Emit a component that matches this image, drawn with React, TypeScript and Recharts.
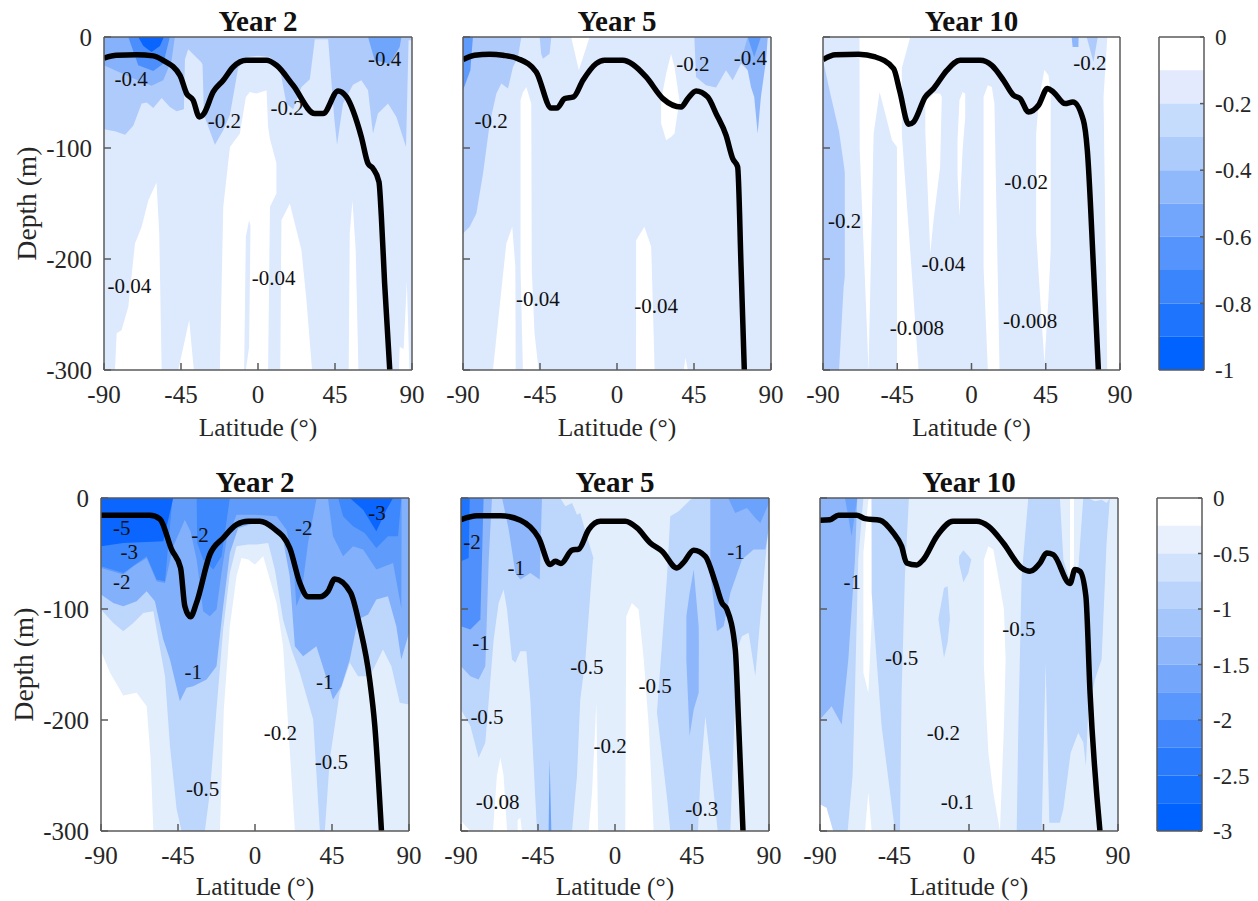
import { Area, Bar, BarChart, ComposedChart, Line, ReferenceDot, XAxis, YAxis } from 'recharts'

type Row = number[]
type Layer = [string, Row[]]
type Note = [number, number, string]

const SERIF = '"Liberation Serif", serif'
const INK = '#262626'
const FRAME = '#5a5a5a'

const latTicks = [-90, -45, 0, 45, 90]
const depthTicks = [0, -100, -200, -300]

const topBarColors = ['#FFFFFF', '#E3EAFD', '#C5DCFC', '#ADCBFB', '#8FB9FB', '#72A6FC', '#5594FC', '#3A84FC', '#1F74FE', '#0062FF']
const topBarTicks = [0, -0.2, -0.4, -0.6, -0.8, -1]
const lowBarColors = ['#FFFFFF', '#E8EFFD', '#D0E2FC', '#BBD4FC', '#A5C6FB', '#8DB6FB', '#74A7FC', '#5A97FC', '#4288FC', '#2A7AFD', '#1570FE', '#0062FF']
const lowBarTicks = [0, -0.5, -1, -1.5, -2, -2.5, -3]

const full: Row[] = [[-90, 0, -300], [90, 0, -300]]

// mixed layer depth lines: [lat, depth]
const mldTop2 = [[-90, -19], [-82.6, -16.5], [-70.9, -16], [-61.2, -17], [-55.4, -21], [-45.6, -34.5], [-41.7, -51], [-37.9, -57], [-34.3, -72], [-31.6, -69], [-26.2, -49.5], [-20.3, -39], [-14.5, -27], [-6.7, -21], [5, -21], [10.8, -25.5], [20.5, -43.5], [33.2, -69], [38, -69], [46.8, -48.6], [51.7, -54], [60.4, -90], [64.3, -114], [67.2, -118.5], [70.7, -130.5], [72.1, -162], [74, -222], [77, -300]]
const mldTop5 = [[-90, -20.4], [-83.2, -16.5], [-74.4, -15.6], [-66.6, -16.5], [-57.9, -19.5], [-47.2, -31.5], [-38.4, -64], [-35.1, -64], [-30.6, -55.5], [-25.4, -54], [-19.9, -39], [-12.2, -24], [-7.3, -21], [3.4, -21], [9.2, -24.6], [17, -36], [26.8, -55.5], [37.5, -63], [41.4, -55.5], [46.2, -48.6], [53, -54], [57.9, -69], [63.7, -88.5], [67.6, -109.5], [70.5, -117], [72.5, -207], [74.4, -300]]
const mldTop10 = [[-90, -20.4], [-82.5, -16], [-68.4, -15.6], [-58.3, -18], [-47.2, -28.5], [-43.6, -48], [-38.1, -78.6], [-35.1, -76.5], [-28, -54], [-23, -46.5], [-14.9, -30], [-6.9, -21], [5.2, -21], [12.3, -25.5], [19.4, -39], [25.4, -52.5], [29.5, -55.5], [34.5, -67.5], [40.6, -61.5], [46, -46.5], [49.6, -49.5], [56.7, -60], [61.4, -58.5], [67.8, -75], [70.2, -102], [73.9, -207], [76.9, -300]]
const mldLow2 = [[-90, -15.6], [-61.4, -15.6], [-55.6, -18.9], [-48.7, -46.5], [-43.5, -63], [-41, -97.5], [-37.7, -107], [-34.2, -94.5], [-26.4, -51], [-18.6, -36], [-10.8, -24], [-4, -21], [2.8, -21], [10.6, -27], [20.3, -45], [26.2, -76.5], [31, -89], [37.9, -89], [42.7, -84], [46.6, -73], [55.8, -85], [61.2, -115.5], [67, -163.5], [70, -205], [73.9, -300]]
const mldLow5 = [[-90, -19.5], [-80.6, -16], [-67, -16], [-55.3, -20], [-44.6, -36], [-37.8, -60], [-34.9, -57], [-31.6, -59], [-25.1, -47], [-21.2, -46], [-15.4, -28.5], [-8.6, -21], [6, -21], [12.9, -27], [20.6, -40.5], [27.5, -48], [36.2, -63], [40.1, -58], [46, -47], [52.8, -52.5], [58.7, -76.5], [62.5, -94.5], [65.4, -100.5], [70.3, -136.5], [72.3, -205], [74.8, -300]]
const mldLow10 = [[-90, -20], [-84, -19.5], [-78.9, -15.6], [-67.9, -15.6], [-62.8, -18.6], [-53.8, -20], [-45.7, -31.5], [-40.7, -43.5], [-37.7, -58.5], [-31.6, -60.3], [-27.6, -55.5], [-19.5, -34.5], [-9.5, -21], [4.6, -21], [11.7, -25.5], [20.7, -40.5], [31.8, -63], [36.8, -66], [42.9, -58.5], [46.9, -49.5], [50.9, -51], [61, -77], [64, -64.5], [67, -66], [70.6, -88.5], [73.1, -175], [79.1, -300]]

// contour regions: [lat, shallow edge, deep edge]
const top2WhiteA = [[-83.6, -300, -300], [-82.6, -267, -300], [-79.7, -264, -300], [-75.8, -243, -300], [-71.9, -186, -300], [-68, -171, -300], [-64.1, -147, -300], [-59.3, -131, -300], [-57.7, -177, -300], [-56.3, -300, -300]]
const top2WhiteB = [[-46.6, -300, -300], [-40.2, -255, -300], [-37.5, -300, -300]]
const top2WhiteC = [[-22.3, -300, -300], [-20.3, -153, -300], [-16.4, -99, -300], [-10.6, -87, -300], [-7.1, -54, -300], [-4.8, -49.5, -300], [-0.9, -51, -300], [5, -48, -300], [5.9, -81, -300], [7, -92, -153], [10.8, -114, -141]]
const top2Slit = [[-8.1, -300, -300], [-7.1, -180, -300], [-5.2, -165, -279], [-4.4, -170, -170]]
const top2WhiteD = [[13, -300, -300], [13.7, -165, -300], [18.6, -150, -300], [25.4, -192, -300], [28.3, -237, -300], [31.6, -300, -300]]
const top2WhiteE = [[53, -300, -300], [53.6, -177, -300], [55.2, -147, -300], [57.1, -192, -300], [58.7, -300, -300]]
const top2WhiteF = [[82.4, -300, -300], [82.8, -279, -300], [85.1, -281, -300], [87, -220, -300], [88.5, -300, -300]]
const top2Band = [[-90, 0, -83], [-83.6, 0, -85], [-77.7, 0, -88], [-72.9, 0, -80], [-68, 0, -60], [-65, 0, -59], [-61.2, 0, -64], [-56.3, 0, -55], [-51.5, 0, -63], [-47.6, 0, -67], [-43.3, 0, -65], [-42.7, 0, -20], [-40.8, 0, -11], [-33, 0, -23], [-32.4, 0, -25], [-31.6, 0, -70], [-25.2, 0, -97], [-20.3, 0, -84], [-16.4, 0, -70], [-11.6, 0, -28], [-6.7, 0, -18], [0, 0, -17], [6.9, 0, -18], [12.7, 0, -28], [16.6, 0, -60], [20.5, 0, -65], [25.4, 0, -45], [30.3, 0, -38], [33.2, 0, -2], [41, 0, -2], [44.5, 0, -72], [46.2, 0, -97], [49.7, 0, -60], [55.5, 0, -43], [60.4, 0, -39], [64.3, 0, -48], [67.2, 0, -87], [70.1, 0, -69], [76, 0, -60], [80.9, 0, -72], [86.5, 0, -99], [88, 0, -3], [90, 0, -3]]
const top2LeftA = [[-90, 0, -25.5], [-83.6, 0, -30], [-73.8, 0, -36.6], [-62.2, 0, -44], [-55.4, 0, -39], [-50.5, 0, -21], [-48.6, 0, 0]]
const top2LeftB = [[-75.8, 0, 0], [-70, 0, -25.5], [-61.2, 0, -30.6], [-55.4, 0, -24], [-51.5, 0, 0]]
const top2LeftC = [[-70, 0, 0], [-67, 0, -8], [-62.2, 0, -13.5], [-57.3, 0, -8], [-55, 0, 0]]
const top2Right = [[64.3, 0, 0], [68.2, 0, -21], [77, 0, -24], [82.8, 0, -9], [83.8, 0, 0]]

const top5WhiteA = [[-72.5, -300, -300], [-64.7, -186, -300], [-61.2, -171, -300], [-59.4, -207, -300], [-59.2, -300, -300]]
const top5WhiteB = [[-56.4, -57, -207], [-55, -50, -300], [-53, -45, -300], [-50.1, -60, -300], [-49.8, -210, -300], [-48.2, -267, -300], [-45.8, -300, -300]]
const top5WhiteC = [[11.1, -300, -300], [11.2, -183, -300], [16, -171, -300], [20, -189, -300], [22, -300, -300]]
const top5WhiteD = [[25.8, -57, -78], [28.7, -33, -93], [31.6, -15, -90], [33.6, -27, -87], [36.5, -57, -57]]
const top5WhiteE = [[-26.8, 0, 0], [-22.3, 0, -30], [-16, 0, 0]]
const top5WhiteF = [[39, -300, -300], [40, -289, -300], [41.4, -300, -300]]
const top5Left = [[-90, 0, -177], [-86.1, 0, -171], [-82.2, 0, -159], [-78.3, 0, -123], [-74.4, 0, -78], [-70.5, 0, -51], [-67.6, 0, -42], [-63.7, 0, -46.5], [-60.8, 0, -27], [-57.9, 0, -18], [-55.9, 0, 0]]
const top5Patch = [[-45.2, 0, 0], [-44.3, 0, -15], [-43.3, 0, -19.5], [-39.4, 0, -15], [-38.4, 0, 0]]
const top5Right = [[45.2, 0, 0], [46.2, 0, -36], [52, 0, -43.5], [57.9, 0, -45.6], [63.7, 0, -30], [67.6, 0, -39], [72.5, 0, -24], [76.4, 0, -30], [78.3, 0, -30], [88.1, 0, 0]]
const top5Tail = [[72.5, -21, -21], [76.4, 0, -30], [78.3, 0, -45], [80.2, 0, -54], [82.2, 0, -87], [84.1, 0, -54], [87.1, 0, -21], [88.1, 0, 0]]
const top5DarkR = [[76.4, 0, 0], [80.2, 0, -18], [84.1, 0, 0]]
const top5DarkL = [[-90, 0, -48], [-85.7, 0, -30], [-84.2, 0, 0]]

const top10White = [[-67.9, 0, 0], [-67.8, 0, -100], [-62.4, 0, -300], [-37.1, 0, -300], [-32.1, -300, -300]]
const top10Cut = [[-42.2, -28, -88], [-37.1, 0, -193], [-32.1, 0, -300]]
const top10Tongue = [[-62.4, -300, -300], [-59.3, -87, -300], [-55.7, -49.5, -300], [-52.3, -69, -300], [-48.2, -93, -300], [-45.2, -99, -300], [-45.1, -300, -300]]
const top10WhiteB = [[-28, -57, -85.5], [-25, -54, -195], [-23, -51, -165], [-19, -51, -117], [-18, -54, -54]]
const top10WhiteC = [[-8.5, -93, -123], [-7.3, -57, -162], [-5.4, -49.5, -102], [-3.8, -51, -72]]
const top10WhiteD = [[7.3, -54, -207], [9.9, -43.5, -300], [12.3, -45, -300], [13.9, -60, -300], [17, -300, -300]]
const top10WhiteE = [[39.2, -87, -177], [40.8, -57, -216], [44.2, -29.4, -294], [46.6, -34.5, -237], [48, -48, -192]]
const top10WhiteF = [[80, -54, -54], [82.3, 0, -300], [90, 0, -300]]
const top10Left = [[-90, -21, -300], [-85.6, -51, -300], [-80.3, -85, -300], [-77.5, -114, -225], [-76.8, -122, -216]]
const top10TipA = [[60.7, 0, 0], [61.3, 0, -9], [64.8, 0, -9], [64.9, 0, 0]]
const top10TipB = [[69.8, 0, 0], [73.9, 0, -22.5], [76.5, 0, 0]]

const low2Pale = [[-90, 0, -138], [-84.7, 0, -157.5], [-77, 0, -178], [-69.2, 0, -175.5], [-63.3, 0, -187.5], [-61, 0, -235], [-59.4, 0, -300], [-20.5, 0, -300], [-18.2, 0, -190], [-14.7, 0, -115.5], [-10.8, 0, -70.5], [-7.9, 0, -54], [-4, 0, -55.5], [-0.1, 0, -60], [4.8, 0, -52.5], [8.7, 0, -73.5], [12.6, 0, -94.5], [16.4, 0, -133.5], [19.4, 0, -205.5], [23.3, 0, -300], [90, 0, -300]]
const low2Light = [[-90, 0, -100.5], [-82.8, 0, -112.5], [-77, 0, -120], [-71.1, 0, -112.5], [-65.3, 0, -103.5], [-59.4, 0, -102], [-56.5, 0, -127.5], [-52.6, 0, -160.5], [-49.7, 0, -223.5], [-45.8, 0, -280.5], [-42.9, 0, -300], [-29.3, 0, -300], [-26.4, 0, -265.5], [-22.5, 0, -190.5], [-18.6, 0, -118.5], [-14.7, 0, -67.5], [-10.8, 0, -43.5], [-4, 0, -42], [0.9, 0, -42], [7.7, 0, -40.5], [11.6, 0, -64.5], [16.4, 0, -109.5], [21.3, 0, -136.5], [26.2, 0, -157.5], [34, 0, -199.5], [37.9, 0, -300], [40.8, 0, -300], [43.7, 0, -235.5], [49.5, 0, -175.5], [55.4, 0, -148.5], [60.2, 0, -160.5], [67, 0, -160.5], [70, 0, -151.5], [74.8, 0, -136.5], [79.7, 0, -151.5], [84.6, 0, -184.5], [90, 0, -186]]
const low2Mid = [[-90, 0, -87], [-82.8, 0, -94.5], [-77, 0, -97.5], [-69.2, 0, -93], [-63.3, 0, -84], [-58.5, 0, -93], [-53.6, 0, -127.5], [-49.7, 0, -145.5], [-43.9, 0, -183], [-40, 0, -171], [-36.1, 0, -169.5], [-28.3, 0, -163.5], [-22.5, 0, -151.5], [-18.6, 0, -97.5], [-14.7, 0, -49.5], [-9.8, 0, -27], [-0.1, 0, -22.5], [8.7, 0, -22.5], [16.4, 0, -37.5], [20.3, 0, -70.5], [23.3, 0, -133.5], [28.1, 0, -142.5], [35.9, 0, -133.5], [40.8, 0, -157.5], [45.6, 0, -181.5], [50.5, 0, -169.5], [55.4, 0, -145.5], [60.2, 0, -109.5], [66.1, 0, -105], [70.9, 0, -91.5], [77.7, 0, -88.5], [82.6, 0, -115.5], [85.5, 0, -145.5], [90, 0, -121.5]]
const low2Deep = [[-90, 0, -63], [-77, 0, -69], [-71.1, 0, -61.5], [-63.3, 0, -54], [-57.5, 0, -75], [-52.6, 0, -76.5], [-47.8, 0, -43.5], [-43.9, 0, -30], [-41, 0, -19.5], [-37.7, 0, -30], [-34.1, 0, -55.5], [-30.3, 0, -102], [-26.4, 0, -106.5], [-22.5, 0, -100.5], [-19.6, 0, -67.5], [-16.6, 0, -37.5], [-10.8, 0, -15], [-0.1, 0, -15], [12.6, 0, -16.5], [18.4, 0, -28.5], [22.3, 0, -55.5], [24.2, 0, -97.5], [27.2, 0, -85.5], [31, 0, -40.5], [35.9, 0, -1], [42.7, 0, -1], [45.6, 0, -34.5], [51.5, 0, -52.5], [57.3, 0, -43.5], [63.2, 0, -46.5], [70.9, 0, -64.5], [80.7, 0, -58.5], [85.5, 0, -99], [85.7, 0, 0], [90, 0, 0]]
const low2StrongL = [[-90, 0, -61.5], [-77, 0, -67.5], [-71.1, 0, -61], [-63.3, 0, -52.5], [-57.5, 0, -73.5], [-52.6, 0, -75], [-48.2, 0, 0]]
const low2StrongM = [[-34.1, 0, 0], [-33.8, 0, -40.5], [-30.3, 0, -55.5], [-24.4, 0, -64.5], [-19.6, 0, -52.5], [-14.7, 0, 0]]
const low2StrongR = [[48.6, 0, 0], [51.5, 0, -16.5], [57.3, 0, -25.5], [64.1, 0, -31.5], [70.9, 0, -45], [77.7, 0, -34.5], [83.6, 0, -34.5], [85.5, 0, 0]]
const low2CoreL = [[-90, 0, -43.5], [-77, 0, -40.5], [-53.6, 0, -39], [-47.8, 0, 0]]
const low2CoreR = [[55.4, 0, 0], [63.2, 0, -10.5], [70.9, 0, -30], [76.8, 0, -10.5], [80.7, 0, 0]]

const low5WhiteA = [[-90, -291, -300], [-84.5, -300, -300]]
const low5WhiteB = [[-71.3, -300, -300], [-69, -250, -300], [-67, -234, -300], [-65.1, -250, -300], [-63.1, -300, -300]]
const low5WhiteC = [[-56.9, -290, -300], [-55.3, -288, -300], [-54.4, -300, -300]]
const low5WhiteD = [[-15.4, -300, -300], [-13.4, -265, -300], [-10.9, -184.5, -300], [-9.9, -300, -300]]
const low5WhiteE = [[6, -300, -300], [6.6, -106.5, -300], [9.9, -94.5, -300], [13.8, -100.5, -300], [16.8, -145.5, -300], [19.7, -205.5, -300], [22.6, -300, -300]]
const low5BandL = [[-90, 0, -190.5], [-84.5, 0, -205.5], [-79.7, 0, -234], [-75.8, 0, -220.5], [-70.9, 0, -127.5], [-68, 0, -94.5], [-65.1, 0, -82.5], [-63.1, 0, -100.5], [-60.2, 0, -145.5], [-58.2, 0, -148.5], [-55.3, 0, -138], [-51.8, 0, -138], [-49.5, 0, -181.5], [-45.6, 0, -300], [-32, 0, -300], [-29, -7.5, -300], [-25.1, -4.5, -300], [-22.2, -15, -250], [-20.3, -13.5, -181.5], [-17.3, -30, -145.5], [-12.9, -52.5, -55.5], [-12.5, -55, -55]]
const low5BandR = [[24.5, -193, -193], [30.4, -70.5, -270], [32.3, -16.5, -300], [37.2, -12, -300], [44, -1.5, -300], [46, 0, -300], [67.4, 0, -300], [71.3, 0, -136.5], [74.2, 0, -124.5], [78.1, 0, -121.5], [82, 0, -160.5], [87.9, 0, -55.5], [90, 0, -22.5]]
const low5Gap = [[48.5, -300, -300], [50, -250, -300], [52.8, -196.5, -300], [56, -240, -300], [60, -300, -300]]
const low5MidA = [[-90, 0, -151.5], [-84.5, 0, -160.5], [-79.7, 0, -163.5], [-75.8, 0, -151.5], [-73.8, 0, -55.5], [-71.9, 0, 0]]
const low5MidB = [[-66, 0, 0], [-62.1, 0, -28.5], [-58.2, 0, -67.5], [-55.3, 0, -73.5], [-49.5, 0, -67.5], [-44, 0, -73.5], [-42.7, 0, 0]]
const low5MidC = [[41.7, -106.5, -145.5], [43.6, -85.5, -214.5], [46, -64.5, -190.5], [48.9, -115.5, -175.5], [49, -130, -130]]
const low5MidD = [[55.7, 0, -67.5], [59.6, 0, -120], [63.5, 0, -115.5], [67.4, 0, -85.5], [74.2, 0, -55.5], [81, 0, -46.5], [87.9, 0, -46.5], [90, 0, -25.5]]
const low5DeepL = [[-90, 0, -115.5], [-84.5, 0, -118.5], [-78.7, 0, -109.5], [-76.8, 0, 0]]
const low5DeepR = [[66.4, 0, -1], [70.3, 0, -13.5], [77.1, 0, -9], [82, 0, -18], [84.9, 0, -22.5], [90, 0, -4.5]]
const low5Core = [[-90, 0, -57], [-85.5, 0, -54], [-84.9, 0, 0]]
const low5Slit = [[-38.8, -300, -300], [-38.2, -235, -300], [-37.2, -300, -300]]

const low10WhiteA = [[-63.8, -49.5, -157.5], [-60.8, -1.5, -175.5], [-58.2, 0, -91.5], [-57.5, -30, -30]]
const low10WhiteB = [[-62.8, -300, -300], [-60.8, -265, -300], [-58.8, -300, -300]]
const low10WhiteC = [[9, -55.5, -151.5], [11.7, -43.5, -229.5], [14.7, -46.5, -265.5], [18.7, -79.5, -300], [21.1, -100.5, -205.5], [22.1, -145.5, -145.5]]
const low10WhiteD = [[-90, -276, -300], [-86, -279, -300], [-82, -300, -300]]
const low10WhiteE = [[61, 0, -76.5], [63.4, 0, -58.5]]
const low10BandA = [[-90, 0, -276], [-86, 0, -279], [-82, 0, -300], [-73.3, 0, -300], [-70.3, 0, -250], [-68.9, 0, -175], [-66.9, 0, -55.5], [-63.8, 0, 0]]
const low10BandB = [[-58.9, 0, 0], [-58.8, 0, -85.5], [-52.8, 0, -205.5], [-44.7, 0, -300], [-41.7, 0, -300], [-40.7, 0, -175.5], [-38.7, 0, -70.5], [-36.3, 0, 0]]
const low10PatchA = [[-6, -52.5, -58.5], [-3.4, -47, -76], [-0.4, -52, -67.5], [1.4, -55.5, -55.5]]
const low10PatchB = [[-18.5, -109, -109], [-15.1, -81, -144], [-12.9, -79.5, -130], [-11.5, -109, -109]]
const low10BandC = [[28.8, -300, -300], [29.8, -205, -300], [31.8, -70.5, -300], [35.8, 0, -300], [43.9, 0, -300], [46.3, 0, -148.5], [48.5, 0, -292.5], [54.9, 0, -292.5], [57, -55.5, -280], [61.4, -76.5, -229.5], [66, -64.5, -211.5], [69, 0, -220], [70.6, 0, -241.5], [72, 0, -193.5], [76.1, -3, -163.5], [80.1, -1.5, -145.5], [83.1, -4.5, -40.5], [85.1, 0, 0]]
const low10Mid = [[-90, 0, -199.5], [-83, 0, -187.5], [-76.9, 0, -204], [-72.9, 0, -145.5], [-68.9, 0, -55.5], [-67.5, 0, 0]]
const low10Core = [[-74.9, 0, 0], [-70.9, 0, -34.5], [-67.5, 0, 0]]

// contour labels: [lat, depth, text]
const notesTop2: Note[] = [[-74.2, -37.5, '-0.4'], [-19.7, -75.6, '-0.2'], [17, -63.6, '-0.2'], [74, -19.5, '-0.4'], [-75.2, -223.5, '-0.04'], [9.2, -216.6, '-0.04']]
const notesTop5: Note[] = [[-73.5, -75, '-0.2'], [44.3, -24, '-0.2'], [78, -18.6, '-0.4'], [-46.2, -236, '-0.04'], [22.9, -241.5, '-0.04']]
const notesTop10: Note[] = [[71.8, -23.4, '-0.2'], [33.1, -130, '-0.02'], [-76.9, -165, '-0.2'], [-17, -204, '-0.04'], [-33.1, -262, '-0.008'], [35.5, -255.6, '-0.008']]
const notesLow2: Note[] = [[-77.9, -27, '-5'], [-73.5, -48.6, '-3'], [-77.9, -75, '-2'], [-32.2, -33, '-2'], [28.5, -27, '-2'], [71.3, -13.5, '-3'], [-36.1, -156, '-1'], [40.8, -165, '-1'], [14.9, -211.5, '-0.2'], [44.7, -237, '-0.5'], [-30.6, -261.6, '-0.5']]
const notesLow5: Note[] = [[-83.6, -39, '-2'], [-57.7, -63, '-1'], [70.7, -48, '-1'], [-78.3, -130.5, '-1'], [-16.4, -152, '-0.5'], [23.5, -168.6, '-0.5'], [-74.8, -197, '-0.5'], [-2.8, -223, '-0.2'], [-68.6, -273.6, '-0.08'], [50.7, -280, '-0.3']]
const notesLow10: Note[] = [[-70.5, -75, '-1'], [30.2, -117.6, '-0.5'], [-40.7, -144, '-0.5'], [-15.5, -211.5, '-0.2'], [-7, -273.6, '-0.1']]

const PALE = '#DDE9FD'
const PALE2 = '#E3EEFD'

const layersTop2: Layer[] = [[PALE, full], ['#fff', top2WhiteA], ['#fff', top2WhiteB], ['#fff', top2WhiteC], [PALE, top2Slit], ['#fff', top2WhiteD], ['#fff', top2WhiteE], ['#fff', top2WhiteF], ['#AECBFB', top2Band], ['#86B2FB', top2LeftA], ['#4C8FFC', top2LeftB], ['#0A65FF', top2LeftC], ['#6FA5FB', top2Right]]
const layersTop5: Layer[] = [[PALE, full], ['#fff', top5WhiteA], ['#fff', top5WhiteB], ['#fff', top5WhiteC], ['#fff', top5WhiteD], ['#fff', top5WhiteE], ['#fff', top5WhiteF], ['#AECBFB', top5Left], ['#AECBFB', top5Patch], ['#AECBFB', top5Right], ['#8DB6FB', top5Tail], ['#5F9BFB', top5DarkR], ['#5F9BFB', top5DarkL]]
const layersTop10: Layer[] = [[PALE, full], ['#fff', top10White], [PALE, top10Cut], [PALE, top10Tongue], ['#fff', top10WhiteB], ['#fff', top10WhiteC], ['#fff', top10WhiteD], ['#fff', top10WhiteE], ['#fff', top10WhiteF], ['#AECBFB', top10Left], ['#8DB6FB', top10TipA], ['#AECBFB', top10TipB]]
const layersLow2: Layer[] = [['#fff', full], [PALE2, low2Pale], ['#BDD6FC', low2Light], ['#82B0FB', low2Mid], ['#5F9BFB', low2Deep], ['#3D88FC', low2StrongL], ['#3D88FC', low2StrongM], ['#3D88FC', low2StrongR], ['#0A66FF', low2CoreL], ['#0A66FF', low2CoreR]]
const layersLow5: Layer[] = [[PALE2, full], ['#fff', low5WhiteA], ['#fff', low5WhiteB], ['#fff', low5WhiteC], ['#fff', low5WhiteD], ['#fff', low5WhiteE], ['#BDD6FC', low5BandL], ['#BDD6FC', low5BandR], [PALE2, low5Gap], ['#8DB6FB', low5MidA], ['#8DB6FB', low5MidB], ['#8DB6FB', low5MidC], ['#8DB6FB', low5MidD], ['#4F90FC', low5DeepL], ['#6BA2FB', low5DeepR], ['#1F74FD', low5Core], ['#6BA2FB', low5Slit]]
const layersLow10: Layer[] = [[PALE2, full], ['#fff', low10WhiteA], ['#fff', low10WhiteB], ['#fff', low10WhiteC], ['#fff', low10WhiteD], ['#fff', low10WhiteE], ['#BDD6FC', low10BandA], ['#BDD6FC', low10BandB], ['#BDD6FC', low10PatchA], ['#BDD6FC', low10PatchB], ['#BDD6FC', low10BandC], ['#8DB6FB', low10Mid], ['#6BA2FB', low10Core]]

const LEFT_PAD = 102
const TOP_PAD = 40
const BOTTOM_PAD = 76
const RIGHT_PAD = 30

type PanelProps = { x: number; y: number; w: number; h: number; title: string; layers: Layer[]; mld: number[][]; notes: Note[]; showDepth?: boolean; labelOffset?: number }

function Panel({ x, y, w, h, title, layers, mld, notes, showDepth, labelOffset = 10 }: PanelProps) {
  const tickStyle = { fill: INK, fontSize: 25, fontFamily: SERIF }
  return (
    <>
      <ComposedChart
        style={{ position: 'absolute', left: x - LEFT_PAD, top: y - TOP_PAD }}
        width={LEFT_PAD + w + 1 + RIGHT_PAD}
        height={TOP_PAD + h + BOTTOM_PAD}
        margin={{ left: 0, right: RIGHT_PAD, top: TOP_PAD - 1, bottom: 0 }}
      >
        <XAxis
          dataKey="lat" type="number" domain={[-90, 90]} ticks={latTicks} allowDataOverflow height={BOTTOM_PAD}
          tickSize={-7} tickMargin={22} stroke={FRAME} strokeWidth={1.5} tick={tickStyle} interval={0}
          label={{ value: 'Latitude (°)', position: 'insideBottom', offset: labelOffset, fill: INK, fontSize: 25.5, fontFamily: SERIF }}
        />
        <XAxis xAxisId="top" orientation="top" dataKey="lat" type="number" domain={[-90, 90]} ticks={latTicks} height={1} tickSize={-7} tickFormatter={() => ''} stroke={FRAME} strokeWidth={1.5} interval={0} />
        <YAxis
          type="number" domain={[-300, 0]} ticks={depthTicks} allowDataOverflow width={LEFT_PAD} interval={0}
          tickSize={-7} tickMargin={19} stroke={FRAME} strokeWidth={1.5} tick={tickStyle}
          tickFormatter={(v: number) => (showDepth ? String(v) : '')}
          label={showDepth ? { value: 'Depth (m)', angle: -90, position: 'insideLeft', offset: 24, textAnchor: 'middle', fill: INK, fontSize: 27.5, fontFamily: SERIF } : undefined}
        />
        <YAxis yAxisId="right" orientation="right" type="number" domain={[-300, 0]} ticks={depthTicks} width={1} interval={0} tickSize={-7} tickFormatter={() => ''} stroke={FRAME} strokeWidth={1.5} />
        {layers.map(([color, rows], i) => (
          <Area
            key={i}
            data={rows.map(([lat, top, bot]) => ({ lat, top, bot }))}
            dataKey={(d: any) => [d.bot, d.top]}
            type="linear"
            fill={color}
            fillOpacity={1}
            stroke="none"
            dot={false}
            activeDot={false}
            isAnimationActive={false}
          />
        ))}
        <Line
          data={mld.map(([lat, depth]) => ({ lat, depth }))}
          dataKey="depth"
          type="monotoneX"
          stroke="#000"
          strokeWidth={5.5}
          strokeLinejoin="round"
          dot={false}
          activeDot={false}
          isAnimationActive={false}
        />
        {notes.map(([lat, depth, text], i) => (
          <ReferenceDot
            key={i}
            x={lat}
            y={depth}
            r={0}
            fill="none"
            stroke="none"
            label={{ value: text, position: 'center', fill: '#111', fontSize: 21, fontFamily: SERIF }}
          />
        ))}
      </ComposedChart>
      <div style={{ position: 'absolute', left: x, top: y - 32, width: w, textAlign: 'center', fontFamily: SERIF, fontWeight: 'bold', fontSize: 29, lineHeight: '32px', color: '#111' }}>
        {title}
      </div>
    </>
  )
}

function ColorBar({ x, y, w, h, colors, ticks, step }: { x: number; y: number; w: number; h: number; colors: string[]; ticks: number[]; step: number }) {
  const row: Record<string, number | string> = { name: 'bar' }
  colors.forEach((_, i) => { row['s' + i] = -step })
  const low = ticks[ticks.length - 1]
  return (
    <BarChart
      style={{ position: 'absolute', left: x - 6, top: y - 20 }}
      width={w + 6 + 52}
      height={h + 40}
      data={[row]}
      margin={{ left: 5, right: 0, top: 19, bottom: 19 }}
      barCategoryGap={0}
    >
      <XAxis dataKey="name" height={1} tick={false} tickLine={false} stroke={FRAME} strokeWidth={1.5} />
      <XAxis xAxisId="top" dataKey="name" orientation="top" height={1} tick={false} tickLine={false} stroke={FRAME} strokeWidth={1.5} />
      <YAxis yAxisId="left" width={1} type="number" domain={[low, 0]} ticks={ticks} tick={false} tickLine={false} stroke={FRAME} strokeWidth={1.5} />
      <YAxis
        orientation="right" width={52} type="number" domain={[low, 0]} ticks={ticks} interval={0}
        tickSize={-4} tickMargin={15} stroke={FRAME} strokeWidth={1.5} tick={{ fill: INK, fontSize: 23, fontFamily: SERIF }}
      />
      {colors.map((c, i) => (
        <Bar key={c} dataKey={'s' + i} stackId="levels" fill={c} isAnimationActive={false} />
      ))}
    </BarChart>
  )
}

export default function App() {
  return (
    <div style={{ position: 'absolute', left: 0, top: 0, width: 1258, height: 901, background: '#fff', overflow: 'hidden' }}>
      <Panel x={104} y={37} w={308} h={333} title="Year 2" layers={layersTop2} mld={mldTop2} notes={notesTop2} showDepth />
      <Panel x={463} y={37} w={308} h={333} title="Year 5" layers={layersTop5} mld={mldTop5} notes={notesTop5} />
      <Panel x={823} y={37} w={297} h={333} title="Year 10" layers={layersTop10} mld={mldTop10} notes={notesTop10} />
      <ColorBar x={1159} y={37} w={45} h={333} colors={topBarColors} ticks={topBarTicks} step={0.1} />
      <Panel x={101} y={498} w={308} h={333} title="Year 2" layers={layersLow2} mld={mldLow2} notes={notesLow2} showDepth labelOffset={12} />
      <Panel x={461} y={498} w={308} h={333} title="Year 5" layers={layersLow5} mld={mldLow5} notes={notesLow5} labelOffset={12} />
      <Panel x={820} y={498} w={298} h={333} title="Year 10" layers={layersLow10} mld={mldLow10} notes={notesLow10} labelOffset={12} />
      <ColorBar x={1157} y={498} w={45} h={333} colors={lowBarColors} ticks={lowBarTicks} step={0.25} />
    </div>
  )
}
